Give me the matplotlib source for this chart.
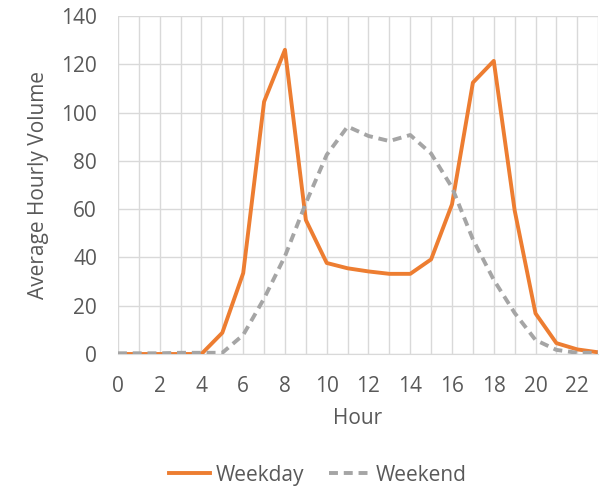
import matplotlib.pyplot as plt

hours = list(range(24))
weekday = [0, 0, 0, 0, 0, 8.8, 33.5, 104.5, 126, 55.5, 37.7, 35.5, 34.2, 33.2, 33.2,
           39.2, 62, 112.4, 121.4, 59.5, 16.8, 4.5, 1.9, 0.7]
weekend = [0.3, 0.3, 0.3, 0.5, 0.5, 0.5, 7.9, 23, 40.5, 62.5, 82.5, 94.2, 90.3, 88.2, 90.7,
           83, 69, 47.5, 30.7, 17, 5.8, 1.7, 0.5, 0.5]

plt.rcParams['font.family'] = ['Open Sans', 'DejaVu Sans']
text_color = '#595959'
fs = 15

fig = plt.figure(figsize=(6.11, 4.86), dpi=100)
ax = fig.add_axes([0.193, 0.2716, 0.786, 0.6955])

ax.plot(hours, weekday, color='#ED7D31', lw=2.8, label='Weekday', zorder=3)
ax.plot(hours, weekend, color='#A5A5A5', lw=2.8, ls=(0, (2.3, 1.5)), label='Weekend', zorder=3)

ax.set_xlim(0, 23)
ax.set_ylim(0, 140)
ax.set_xticks(range(0, 23, 2))
ax.set_xticks(range(0, 24), minor=True)
ax.set_yticks(range(0, 141, 20))
ax.grid(True, which='both', color='#d9d9d9', lw=1)
ax.set_axisbelow(True)
for s in ['top', 'right', 'left']:
    ax.spines[s].set_visible(False)
ax.spines['bottom'].set_color('#d9d9d9')
ax.tick_params(which='both', length=0, labelsize=fs, colors=text_color)
ax.tick_params(axis='x', pad=16)
ax.tick_params(axis='y', pad=15)

ax.set_xlabel('Hour', fontsize=fs, color=text_color, labelpad=8)
ax.set_ylabel('Average Hourly Volume', fontsize=fs, color=text_color, labelpad=9)

fig.legend(loc='lower center', bbox_to_anchor=(0.52, -0.038), ncol=2, frameon=False,
           fontsize=fs, labelcolor=text_color, handlelength=2.0, handletextpad=0.25,
           columnspacing=1.2)

fig.savefig('out.png', dpi=100)
